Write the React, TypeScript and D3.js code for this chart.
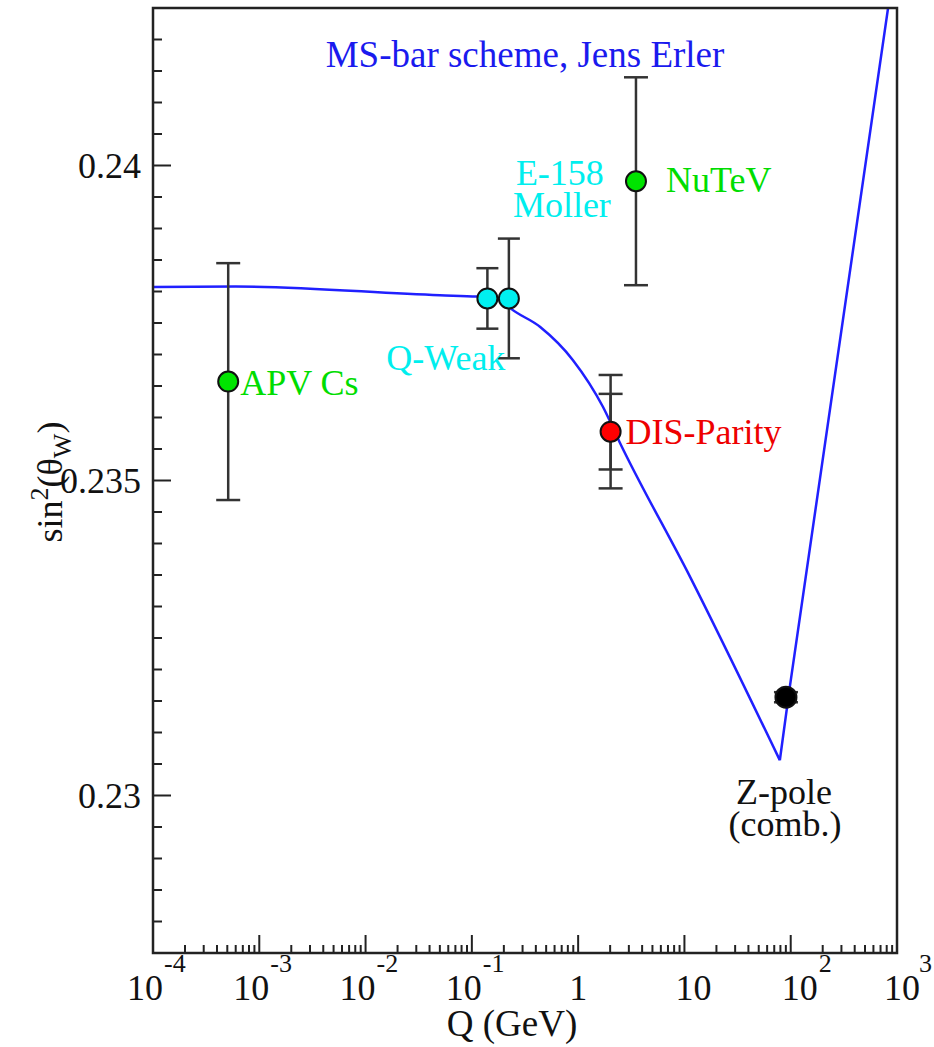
import React from "react";
import * as d3 from "d3";

// ---- data ----
const curveQ = [1e-4, 6e-4, 0.05, 0.112, 0.184, 0.228, 0.437, 0.894, 1.71, 2.47, 11.3, 79, 98, 1000];
const curveS = [0.23807, 0.23808, 0.23794, 0.23792, 0.23788, 0.23774, 0.23744, 0.23691, 0.23617, 0.2356, 0.23347, 0.23056, 0.23172, 0.24348];

const pointNames = ["APV Cs", "Q-Weak", "E-158", "NuTeV", "DIS-Parity", "Z-pole"];
const pointQ = [5.1e-4, 0.14, 0.223, 3.5, 2.02, 90.2];
const pointS = [0.23657, 0.23789, 0.23789, 0.23975, 0.235775, 0.23156];
const pointErr = [0.00188, 0.00048, 0.00095, 0.00165, 0.0009, 0.00008];
const pointErrInner = [0, 0, 0, 0, 0.0006, 0];
const pointFill = ["#00e400", "#00f0f0", "#00f0f0", "#00e400", "#ff0000", "#000000"];

const xExponents = [-4, -3, -2, -1, 0, 1, 2, 3];
const yMajor = [0.23, 0.235, 0.24];
const yMajorLabels = ["0.23", "0.235", "0.24"];

const W = 934, H = 1047;
const M = { left: 153, right: 897, top: 8, bottom: 953 };
const FONT = "'Liberation Serif', 'Times New Roman', serif";

export default function App() {
  const x = d3.scaleLog().domain([1e-4, 1e3]).range([M.left, M.right]);
  const y = d3.scaleLinear().domain([0.2275, 0.2425]).range([M.bottom, M.top]);

  // index of the curve minimum: smooth branch up to it, straight branch after
  const minIdx = d3.minIndex(curveS);
  const idx = curveQ.map((_, i) => i);
  const smooth = d3
    .line<number>()
    .x((i) => x(curveQ[i]))
    .y((i) => y(curveS[i]))
    .curve(d3.curveMonotoneX);
  const straight = d3
    .line<number>()
    .x((i) => x(curveQ[i]))
    .y((i) => y(curveS[i]));

  // minor ticks
  const xMinor: number[] = [];
  for (let e = -4; e < 3; e++) for (let k = 2; k <= 9; k++) xMinor.push(k * Math.pow(10, e));
  const yMinor = d3.range(0, 31).map((i) => 0.2275 + i * 0.0005).filter((v) => v > 0.2275 && v < 0.2425);

  const pt = (i: number) => ({ px: x(pointQ[i]), py: y(pointS[i]) });

  const errBar = (i: number, err: number, hw: number, key: string) => {
    const { px } = pt(i);
    const y1 = y(pointS[i] + err), y2 = y(pointS[i] - err);
    return (
      <g key={key} stroke="#333" strokeWidth={2.5}>
        <line x1={px} x2={px} y1={y1} y2={y2} />
        <line x1={px - hw} x2={px + hw} y1={y1} y2={y1} />
        <line x1={px - hw} x2={px + hw} y1={y2} y2={y2} />
      </g>
    );
  };

  const p = pointNames.map((_, i) => pt(i));

  return (
    <svg width={W} height={H} style={{ position: "absolute", left: 0, top: 0, background: "#fff" }} fontFamily={FONT}>
      <defs>
        <clipPath id="plotclip">
          <rect x={M.left} y={M.top} width={M.right - M.left} height={M.bottom - M.top} />
        </clipPath>
      </defs>

      {/* curve */}
      <g clipPath="url(#plotclip)" fill="none" stroke="#2020ff" strokeWidth={2.5} strokeLinejoin="round">
        <path d={smooth(idx.slice(0, minIdx + 1)) || ""} />
        <path d={straight(idx.slice(minIdx)) || ""} />
      </g>

      {/* error bars */}
      {pointNames.map((_, i) => errBar(i, pointErr[i], i === 1 || i === 2 ? 11 : 12, "e" + i))}
      {pointNames.map((_, i) => (pointErrInner[i] > 0 ? errBar(i, pointErrInner[i], 12, "ei" + i) : null))}

      {/* markers */}
      {pointNames.map((_, i) => (
        <circle key={"m" + i} cx={p[i].px} cy={p[i].py} r={i === 5 ? 10.5 : 10} fill={pointFill[i]} stroke="#111" strokeWidth={2} />
      ))}

      {/* frame */}
      <rect x={M.left} y={M.top} width={M.right - M.left} height={M.bottom - M.top} fill="none" stroke="#222" strokeWidth={2.5} />

      {/* x ticks */}
      {xExponents.map((e) => (
        <line key={"xM" + e} x1={x(Math.pow(10, e))} x2={x(Math.pow(10, e))} y1={M.bottom} y2={M.bottom - 18} stroke="#222" strokeWidth={2} />
      ))}
      {xMinor.map((v, i) => (
        <line key={"xm" + i} x1={x(v)} x2={x(v)} y1={M.bottom} y2={M.bottom - 8} stroke="#222" strokeWidth={2} />
      ))}
      {/* y ticks */}
      {yMinor.map((v, i) => {
        const major = yMajor.some((m) => Math.abs(m - v) < 1e-7);
        return <line key={"ym" + i} x1={M.left} x2={M.left + (major ? 18 : 9)} y1={y(v)} y2={y(v)} stroke="#222" strokeWidth={2} />;
      })}

      {/* x tick labels */}
      {xExponents.map((e) => {
        const tx = x(Math.pow(10, e));
        if (e === 0)
          return (
            <text key={"xl" + e} x={tx} y={1000} fontSize={36} textAnchor="middle" fill="#111">1</text>
          );
        if (e === 1)
          return (
            <text key={"xl" + e} x={tx - 9} y={1000} fontSize={36} fill="#111">10</text>
          );
        return (
          <text key={"xl" + e} x={tx + (e < 0 ? -26 : e === 3 ? -13 : -9)} y={1000} fontSize={36} fill="#111">
            10
            <tspan dy={-28} dx={e === 3 ? -1 : 1} fontSize={26}>{e < 0 ? "-" + Math.abs(e) : String(e)}</tspan>
          </text>
        );
      })}
      <text x={512} y={1036} fontSize={37} textAnchor="middle" fill="#111">Q (GeV)</text>

      {/* y tick labels */}
      {yMajor.map((v, i) => (
        <text key={"yl" + i} x={141} y={y(v) + 12} fontSize={36} textAnchor="end" fill="#111">{yMajorLabels[i]}</text>
      ))}
      <text transform={`translate(62,482) rotate(-90)`} fontSize={36} textAnchor="middle" fill="#111">
        sin<tspan dy={-14} fontSize={26}>2</tspan><tspan dy={14}>(θ</tspan><tspan dy={9} fontSize={26}>W</tspan><tspan dy={-9}>)</tspan>
      </text>

      {/* title */}
      <text x={525} y={67} fontSize={37} textAnchor="middle" fill="#1a1aee">MS-bar scheme, Jens Erler</text>

      {/* point labels */}
      <text x={p[0].px + 12} y={p[0].py + 13} fontSize={36} fill="#00dd00">{pointNames[0]}</text>
      <text x={p[1].px + 18} y={p[1].py + 72} fontSize={36} textAnchor="end" fill="#00eeee">{pointNames[1]}</text>
      <text x={p[2].px + 51} y={p[2].py - 113} fontSize={36} textAnchor="middle" fill="#00eeee">{pointNames[2]}</text>
      <text x={p[2].px + 53} y={p[2].py - 81} fontSize={36} textAnchor="middle" fill="#00eeee">Moller</text>
      <text x={p[3].px + 30} y={p[3].py + 11} fontSize={36} fill="#00dd00">{pointNames[3]}</text>
      <text x={p[4].px + 15} y={p[4].py + 12} fontSize={36} fill="#ee0000">{pointNames[4]}</text>
      <text x={p[5].px - 2} y={p[5].py + 107} fontSize={36} textAnchor="middle" fill="#111">{pointNames[5]}</text>
      <text x={p[5].px - 1} y={p[5].py + 139} fontSize={36} textAnchor="middle" fill="#111">(comb.)</text>
    </svg>
  );
}
